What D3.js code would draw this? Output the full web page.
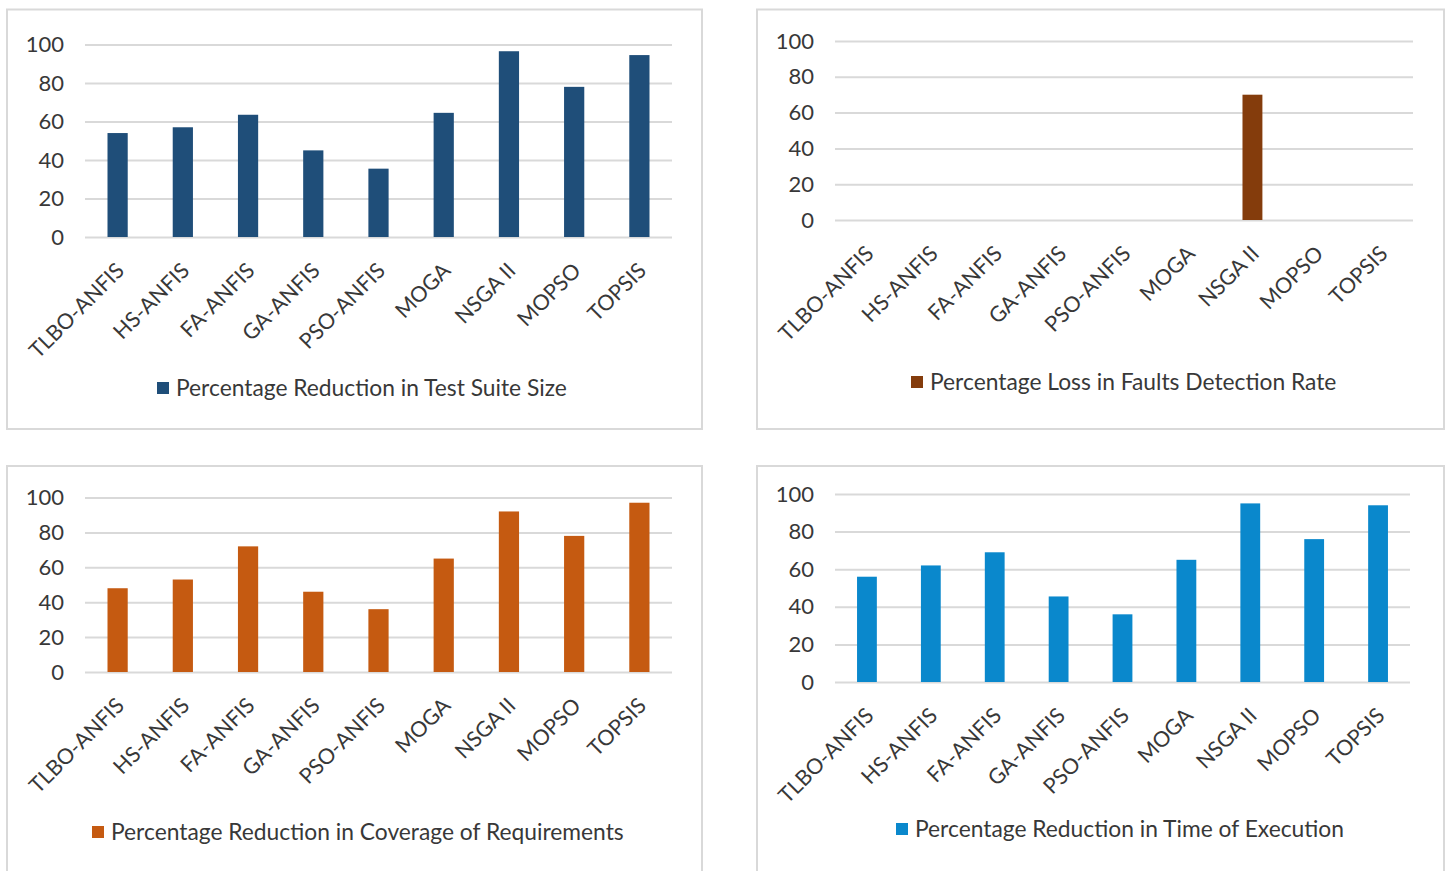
<!DOCTYPE html>
<html>
<head>
<meta charset="utf-8">
<script src="https://cdn.jsdelivr.net/npm/d3@7"></script>
<style>
  body { margin: 0; background: #fff; }
  svg { display: block; }
  text { font-family: Lato, "Open Sans", sans-serif; fill: #383838; }
</style>
</head>
<body>
<svg id="chart" width="1447" height="871"></svg>
<script>
// Methods compared in every panel
const categories = ["TLBO-ANFIS", "HS-ANFIS", "FA-ANFIS", "GA-ANFIS", "PSO-ANFIS", "MOGA", "NSGA II", "MOPSO", "TOPSIS"];
const yTicks = [0, 20, 40, 60, 80, 100];

// Percentages per method
const testSuiteReduction     = [54, 57, 63.5, 45, 35.5, 64.5, 96.5, 78, 94.5];
const faultDetectionLoss     = [0, 0, 0, 0, 0, 0, 70, 0, 0];
const coverageReduction      = [48, 53, 72, 46, 36, 65, 92, 78, 97];
const executionTimeReduction = [56, 62, 69, 45.5, 36, 65, 95, 76, 94];

const seriesNames = [
  "Percentage Reduction in Test Suite Size",
  "Percentage Loss in Faults Detection Rate",
  "Percentage Reduction in Coverage of Requirements",
  "Percentage Reduction in Time of Execution"
];
const seriesValues = [testSuiteReduction, faultDetectionLoss, coverageReduction, executionTimeReduction];
const seriesColors = ["#1f4e79", "#843c0c", "#c55a11", "#0a88cc"];

// Layout of the four chart boxes (2 x 2 grid)
const layout = [
  { frame: [7, 9.5, 695, 419.5],  plot: { x0: 85,  x1: 672,  yBase: 237, yTop: 44.5 }, legend: { x: 157, y: 388 } },
  { frame: [757, 9.5, 687, 419.5], plot: { x0: 835, x1: 1413, yBase: 220, yTop: 41 },   legend: { x: 911, y: 382 } },
  { frame: [7, 466, 695, 420],    plot: { x0: 85,  x1: 672,  yBase: 672, yTop: 497.5 }, legend: { x: 92,  y: 832 } },
  { frame: [757, 466, 687, 420],  plot: { x0: 835, x1: 1410, yBase: 682, yTop: 494 },   legend: { x: 896, y: 829 } }
];

const svg = d3.select("#chart");
const gridColor = "#d9d9d9";
const textColor = "#383838";

layout.forEach((L, i) => {
  const values = seriesValues[i];
  const color = seriesColors[i];
  const g = svg.append("g");

  // chart box
  g.append("rect")
    .attr("x", L.frame[0]).attr("y", L.frame[1])
    .attr("width", L.frame[2]).attr("height", L.frame[3])
    .attr("fill", "#fff").attr("stroke", gridColor).attr("stroke-width", 2);

  const bar = 0.69;
  const x = d3.scaleBand().domain(categories)
    .range([L.plot.x0, L.plot.x1])
    .paddingInner(bar).paddingOuter(bar / 2);
  const y = d3.scaleLinear().domain([0, 100]).range([L.plot.yBase, L.plot.yTop]);

  // value axis with gridlines
  const yAxis = g.append("g")
    .attr("transform", `translate(${L.plot.x0},0)`)
    .call(d3.axisLeft(y).tickValues(yTicks).tickSize(-(L.plot.x1 - L.plot.x0)).tickPadding(21));
  yAxis.select(".domain").remove();
  yAxis.selectAll(".tick line").attr("stroke", gridColor).attr("stroke-width", 2);
  yAxis.selectAll(".tick text").style("font-size", "22px").attr("fill", textColor);

  // bars
  g.append("g").selectAll("rect")
    .data(values)
    .join("rect")
    .attr("x", (d, k) => x(categories[k]))
    .attr("width", x.bandwidth())
    .attr("y", d => y(d))
    .attr("height", d => y(0) - y(d))
    .attr("fill", color);

  // category axis, labels slanted at 45 degrees
  const xAxis = g.append("g")
    .attr("transform", `translate(0,${L.plot.yBase})`)
    .call(d3.axisBottom(x).tickSize(0));
  xAxis.select(".domain").remove();
  xAxis.selectAll(".tick text")
    .attr("x", 0).attr("y", 0).attr("dy", null)
    .attr("text-anchor", "end")
    .attr("transform", "translate(8,35) rotate(-45)")
    .style("font-size", "21.5px")
    .attr("fill", textColor);

  // legend
  const lg = g.append("g").attr("transform", `translate(${L.legend.x},${L.legend.y})`);
  lg.append("rect").attr("x", 0).attr("y", -6).attr("width", 12).attr("height", 12).attr("fill", color);
  lg.append("text").attr("x", 19).attr("y", 0).attr("dy", "0.35em")
    .style("font-size", "22.8px").text(seriesNames[i]);
});
</script>
</body>
</html>
